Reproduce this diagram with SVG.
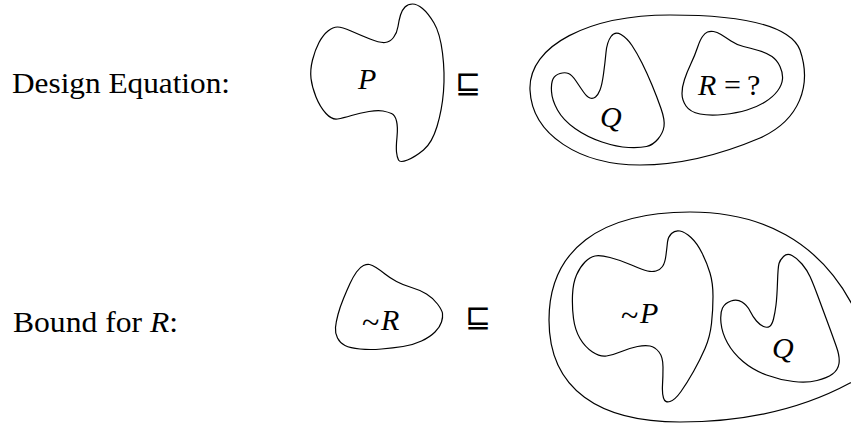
<svg xmlns="http://www.w3.org/2000/svg" width="851" height="425" viewBox="0 0 851 425">
<style>
.s{fill:none;stroke:#000;stroke-width:1.2;stroke-linejoin:round}
.t{font-family:"Liberation Serif","Times New Roman",serif;font-size:30px;fill:#000}
.i{font-style:italic}
.tl{font-family:"Liberation Serif","Times New Roman",serif;font-size:32px;fill:#000}
.op{font-family:"DejaVu Sans",sans-serif;font-size:31px;fill:#000}
</style>
<rect width="851" height="425" fill="#fff"/>
<g id="labels">
<text class="t" x="12" y="93" textLength="218" lengthAdjust="spacingAndGlyphs">Design Equation:</text>
<text class="t" x="13" y="332" textLength="165" lengthAdjust="spacingAndGlyphs">Bound for <tspan class="i">R</tspan>:</text>
</g>
<g id="P">
<path class="s" d="M405,7 Q408,4 412.5,4 Q417,4 422.5,8.5 Q428,13 434,23 Q440,33 442.5,53 Q445,73 443.5,91.5 Q442,110 437,126.5 Q432,143 423.5,150 Q415,157 407.5,160 Q400,163 398.5,160 Q397,157 396.5,152 Q396,147 397,137 Q398,127 396.5,121 Q395,115 391.5,113.5 Q388,112 383,111 Q378,110 369,111.5 Q360,113 351.5,115.5 Q343,118 337.5,119 Q332,120 326,113.5 Q320,107 316,97 Q312,87 311,78.5 Q310,70 312.5,60 Q315,50 319,42.5 Q323,35 328,31 Q333,27 337.5,27 Q342,27 351,31 Q360,35 370,39 Q380,43 385,42.5 Q390,42 393.5,37.5 Q397,33 398,26.5 Q399,20 400.5,15 Q402,10 405,7 Z"/>
<text class="t i" x="358" y="89">P</text>
</g>
<text id="sq1" class="op" x="468" y="93" text-anchor="middle">⊑</text>
<g id="outer1">
<path class="s" d="M530,90 C528,45 590,15 670,15 C740,15 790,25 800,50 C812,85 800,120 760,138 C720,155 680,165 640,165 C580,165 532,135 530,90 Z"/>
</g>
<g id="Q1">
<path class="s" d="M611,36.5 Q615,31 621,34.5 Q627,38 632,45.5 Q637,53 642,63 Q647,73 652,85 Q657,97 661,108.5 Q665,120 664,126.5 Q663,133 658,139 Q653,145 646.5,146.5 Q640,148 628.5,147.5 Q617,147 602,142 Q587,137 575,128.5 Q563,120 557.5,110 Q552,100 551.5,91.5 Q551,83 553,79 Q555,75 560,73.5 Q565,72 568.5,73.5 Q572,75 576,81 Q580,87 583.5,92 Q587,97 590,98 Q593,99 595.5,97 Q598,95 600,90 Q602,85 603.5,74 Q605,63 606,52.5 Q607,42 611,36.5 Z"/>
<text class="t i" x="600" y="127">Q</text>
</g>
<g id="R1">
<path class="s" d="M707.5,32 Q710,31 713.5,31.5 Q717,32 721,34.5 Q725,37 731,41 Q737,45 743.5,46.5 Q750,48 758.5,50.5 Q767,53 772,56.5 Q777,60 780,66.5 Q783,73 782.5,79 Q782,85 777.5,91 Q773,97 765,102 Q757,107 747,110 Q737,113 723.5,114.5 Q710,116 700,114 Q690,112 686,106 Q682,100 682,93.5 Q682,87 684.5,79.5 Q687,72 691,63.5 Q695,55 697.5,47.5 Q700,40 702.5,36.5 Q705,33 707.5,32 Z"/>
<text class="t" y="95"><tspan class="i" x="698">R</tspan><tspan x="724">=</tspan><tspan x="747">?</tspan></text>
</g>
<g id="notR">
<path class="s" d="M363.5,265.5 Q367,264 369.5,264.5 Q372,265 376,267.5 Q380,270 385,274 Q390,278 396.5,281.5 Q403,285 411.5,287.5 Q420,290 426.5,294 Q433,298 437.5,304 Q442,310 442.5,313.5 Q443,317 441.5,322 Q440,327 435,332 Q430,337 421.5,341 Q413,345 403,346.5 Q393,348 381.5,349 Q370,350 360,349 Q350,348 345,345.5 Q340,343 337.5,338 Q335,333 335.5,327.5 Q336,322 338,314.5 Q340,307 343.5,298.5 Q347,290 350,283.5 Q353,277 356.5,272 Q360,267 363.5,265.5 Z"/>
<text class="tl" x="362" y="333">~</text>
<text class="t i" x="381" y="330">R</text>
</g>
<text id="sq2" class="op" x="478" y="327" text-anchor="middle">⊑</text>
<g id="outer2">
<path class="s" d="M549,320 C549,250 600,212 690,212 C760,212 820,240 855,310 C880,350 870,375 850,383 C800,410 740,422 680,422 C600,422 549,390 549,320 Z"/>
</g>
<g id="notP">
<path class="s" d="M671.5,233.5 Q675,230 680,231 Q685,232 691,237.5 Q697,243 702,253 Q707,263 710,273 Q713,283 713,296.5 Q713,310 711.5,323.5 Q710,337 705,348.5 Q700,360 693.5,371.5 Q687,383 681,391.5 Q675,400 670,401.5 Q665,403 663.5,398 Q662,393 662.5,385 Q663,377 663,367 Q663,357 659,352 Q655,347 650,346 Q645,345 637.5,346.5 Q630,348 621.5,351.5 Q613,355 606.5,356 Q600,357 592.5,352 Q585,347 580,338.5 Q575,330 573.5,318.5 Q572,307 572.5,295 Q573,283 576.5,275 Q580,267 585,262 Q590,257 595,256 Q600,255 610,257.5 Q620,260 631.5,265 Q643,270 647.5,271 Q652,272 656,271 Q660,270 662.5,266.5 Q665,263 666,255 Q667,247 667.5,242 Q668,237 671.5,233.5 Z"/>
<text class="tl" x="621" y="326">~</text>
<text class="t i" x="640" y="323">P</text>
</g>
<g id="Q2">
<path class="s" d="M783.5,256.5 Q787,253 792,255.5 Q797,258 802,264 Q807,270 810,276.5 Q813,283 818,296.5 Q823,310 828,323.5 Q833,337 836.5,347 Q840,357 839,363.5 Q838,370 832.5,374 Q827,378 817,380.5 Q807,383 793.5,381.5 Q780,380 766.5,375 Q753,370 743,361.5 Q733,353 727.5,343 Q722,333 721,323 Q720,313 722.5,308 Q725,303 731,301 Q737,299 742,302 Q747,305 750,311 Q753,317 756.5,321 Q760,325 763.5,326.5 Q767,328 769.5,326.5 Q772,325 773.5,319 Q775,313 776,305 Q777,297 777.5,282 Q778,267 779,263.5 Q780,260 783.5,256.5 Z"/>
<text class="t i" x="772" y="358">Q</text>
</g>
</svg>
